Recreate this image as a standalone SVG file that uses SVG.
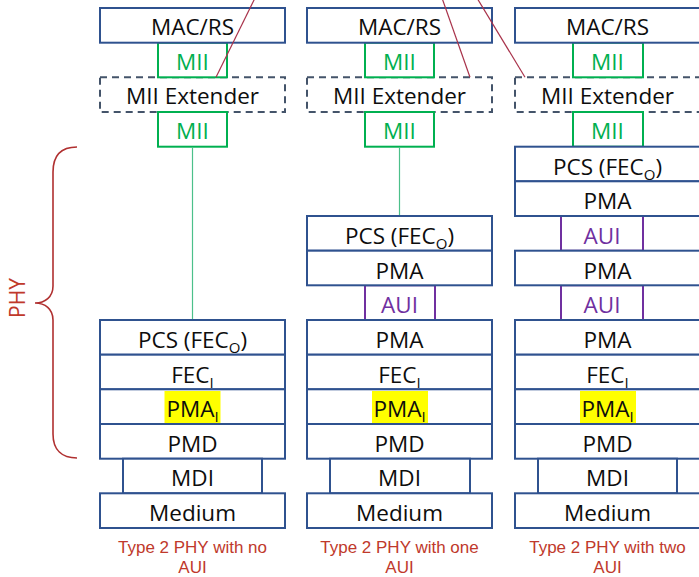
<svg xmlns="http://www.w3.org/2000/svg" width="699" height="577" viewBox="0 0 699 577">
  <style>
    .layer { fill: #ffffff; stroke: #2F528F; stroke-width: 2; }
    .mii { fill: #ffffff; stroke: #00B050; stroke-width: 2; }
    .aui { fill: #ffffff; stroke: #7030A0; stroke-width: 2; }
    .ext { fill: #ffffff; stroke: #44546A; stroke-width: 2; stroke-dasharray: 7 5; }
    .hl { fill: #FFFF00; stroke: none; }
    text { font-family: "Open Sans", "Liberation Sans", sans-serif; font-size: 22.5px; text-anchor: middle; fill: #0d0d0d; }
    .tg { fill: #00B050; }
    .tp { fill: #7030A0; }
    .cap { font-family: "Liberation Sans", "Open Sans", sans-serif; font-size: 17px; fill: #C0392B; }
    .phy { font-size: 21px; fill: #C0392B; }
    .sub { font-size: 15px; }
    .link { stroke: #4CC08A; stroke-width: 1.2; fill: none; }
    .red { stroke: #A8324A; stroke-width: 1.2; fill: none; }
  </style>

  <!-- PHY brace -->
  <g id="phy-brace">
    <path fill="none" stroke="#B03030" stroke-width="1.6" d="M77,147 C62,147 53,155 53,172 L53,286 C53,297 45,303 35,303 C45,303 53,309 53,320 L53,434 C53,450 62,458 77,458"/>
    <text class="phy" transform="translate(25,298) rotate(-90)">PHY</text>
  </g>

  <!-- Column 1: no AUI -->
  <g id="col1">
    <rect class="ext" x="100" y="77.3" width="185" height="34.7"/>
    <rect class="mii" x="158" y="42.7" width="69" height="34.6"/>
    <rect class="mii" x="158" y="112" width="69" height="34.7"/>
    <rect class="layer" x="100" y="8" width="185" height="34.7"/>
    <rect class="layer" x="100" y="320" width="185" height="34.7"/>
    <rect class="layer" x="100" y="354.7" width="185" height="34.6"/>
    <rect class="layer" x="100" y="389.3" width="185" height="34.7"/>
    <rect class="hl" x="164.5" y="391" width="56" height="32"/>
    <rect class="layer" x="100" y="424" width="185" height="34.7"/>
    <rect class="layer" x="123" y="458.7" width="139" height="34.6"/>
    <rect class="layer" x="100" y="493.3" width="185" height="34.7"/>
    <text x="192.5" y="35">MAC/RS</text>
    <text class="tg" x="192.5" y="69.5">MII</text>
    <text x="192.5" y="103.5">MII Extender</text>
    <text class="tg" x="192.5" y="138.5">MII</text>
    <text x="192.5" y="348">PCS (FEC<tspan class="sub" dy="5">O</tspan><tspan dy="-5">)</tspan></text>
    <text x="192.5" y="382.5">FEC<tspan class="sub" dy="5">I</tspan></text>
    <text x="192.5" y="417">PMA<tspan class="sub" dy="5">I</tspan></text>
    <text x="192.5" y="451.5">PMD</text>
    <text x="192.5" y="486">MDI</text>
    <text x="192.5" y="520.5">Medium</text>
    <text class="cap" x="192.5" y="553">Type 2 PHY with no</text>
    <text class="cap" x="192.5" y="573">AUI</text>
  </g>

  <!-- Column 2: one AUI -->
  <g id="col2">
    <rect class="ext" x="307" y="77.3" width="185" height="34.7"/>
    <rect class="mii" x="365" y="42.7" width="69" height="34.6"/>
    <rect class="mii" x="365" y="112" width="69" height="34.7"/>
    <rect class="aui" x="365" y="285.3" width="70" height="34.7"/>
    <rect class="layer" x="307" y="8" width="185" height="34.7"/>
    <rect class="layer" x="307" y="216" width="185" height="34.7"/>
    <rect class="layer" x="307" y="250.7" width="185" height="34.6"/>
    <rect class="layer" x="307" y="320" width="185" height="34.7"/>
    <rect class="layer" x="307" y="354.7" width="185" height="34.6"/>
    <rect class="layer" x="307" y="389.3" width="185" height="34.7"/>
    <rect class="hl" x="372" y="391" width="56" height="32"/>
    <rect class="layer" x="307" y="424" width="185" height="34.7"/>
    <rect class="layer" x="330" y="458.7" width="140" height="34.6"/>
    <rect class="layer" x="307" y="493.3" width="185" height="34.7"/>
    <text x="399.5" y="35">MAC/RS</text>
    <text class="tg" x="399.5" y="69.5">MII</text>
    <text x="399.5" y="103.5">MII Extender</text>
    <text class="tg" x="399.5" y="138.5">MII</text>
    <text x="399.5" y="244">PCS (FEC<tspan class="sub" dy="5">O</tspan><tspan dy="-5">)</tspan></text>
    <text x="399.5" y="278.5">PMA</text>
    <text class="tp" x="399.5" y="313">AUI</text>
    <text x="399.5" y="348">PMA</text>
    <text x="399.5" y="382.5">FEC<tspan class="sub" dy="5">I</tspan></text>
    <text x="399.5" y="417">PMA<tspan class="sub" dy="5">I</tspan></text>
    <text x="399.5" y="451.5">PMD</text>
    <text x="399.5" y="486">MDI</text>
    <text x="399.5" y="520.5">Medium</text>
    <text class="cap" x="399.5" y="553">Type 2 PHY with one</text>
    <text class="cap" x="399.5" y="573">AUI</text>
  </g>

  <!-- Column 3: two AUIs -->
  <g id="col3">
    <rect class="ext" x="515" y="77.3" width="185" height="34.7"/>
    <rect class="mii" x="573" y="42.7" width="70" height="34.6"/>
    <rect class="mii" x="573" y="112" width="70" height="34.7"/>
    <rect class="aui" x="561" y="216" width="82" height="34.7"/>
    <rect class="aui" x="561" y="285.3" width="82" height="34.7"/>
    <rect class="layer" x="515" y="8" width="185" height="34.7"/>
    <rect class="layer" x="515" y="146.7" width="185" height="34.6"/>
    <rect class="layer" x="515" y="181.3" width="185" height="34.7"/>
    <rect class="layer" x="515" y="250.7" width="185" height="34.6"/>
    <rect class="layer" x="515" y="320" width="185" height="34.7"/>
    <rect class="layer" x="515" y="354.7" width="185" height="34.6"/>
    <rect class="layer" x="515" y="389.3" width="185" height="34.7"/>
    <rect class="hl" x="580" y="391" width="56" height="32"/>
    <rect class="layer" x="515" y="424" width="185" height="34.7"/>
    <rect class="layer" x="538" y="458.7" width="139" height="34.6"/>
    <rect class="layer" x="515" y="493.3" width="185" height="34.7"/>
    <text x="607.5" y="35">MAC/RS</text>
    <text class="tg" x="607.5" y="69.5">MII</text>
    <text x="607.5" y="103.5">MII Extender</text>
    <text class="tg" x="607.5" y="138.5">MII</text>
    <text x="607.5" y="174.5">PCS (FEC<tspan class="sub" dy="5">O</tspan><tspan dy="-5">)</tspan></text>
    <text x="607.5" y="209">PMA</text>
    <text class="tp" x="602" y="244">AUI</text>
    <text x="607.5" y="278.5">PMA</text>
    <text class="tp" x="602" y="313">AUI</text>
    <text x="607.5" y="348">PMA</text>
    <text x="607.5" y="382.5">FEC<tspan class="sub" dy="5">I</tspan></text>
    <text x="607.5" y="417">PMA<tspan class="sub" dy="5">I</tspan></text>
    <text x="607.5" y="451.5">PMD</text>
    <text x="607.5" y="486">MDI</text>
    <text x="607.5" y="520.5">Medium</text>
    <text class="cap" x="607.5" y="553">Type 2 PHY with two</text>
    <text class="cap" x="607.5" y="573">AUI</text>
  </g>

  <!-- connectors: MII-to-PCS links and the lines running in from above -->
  <g id="connectors">
    <line class="link" x1="192.5" y1="147.7" x2="192.5" y2="319"/>
    <line class="link" x1="399.5" y1="147.7" x2="399.5" y2="215"/>
    <line class="red" x1="255" y1="-2" x2="216" y2="77.3"/>
    <line class="red" x1="442" y1="-2" x2="470" y2="77.3"/>
    <line class="red" x1="477" y1="-2" x2="525" y2="77.3"/>
  </g>
</svg>
